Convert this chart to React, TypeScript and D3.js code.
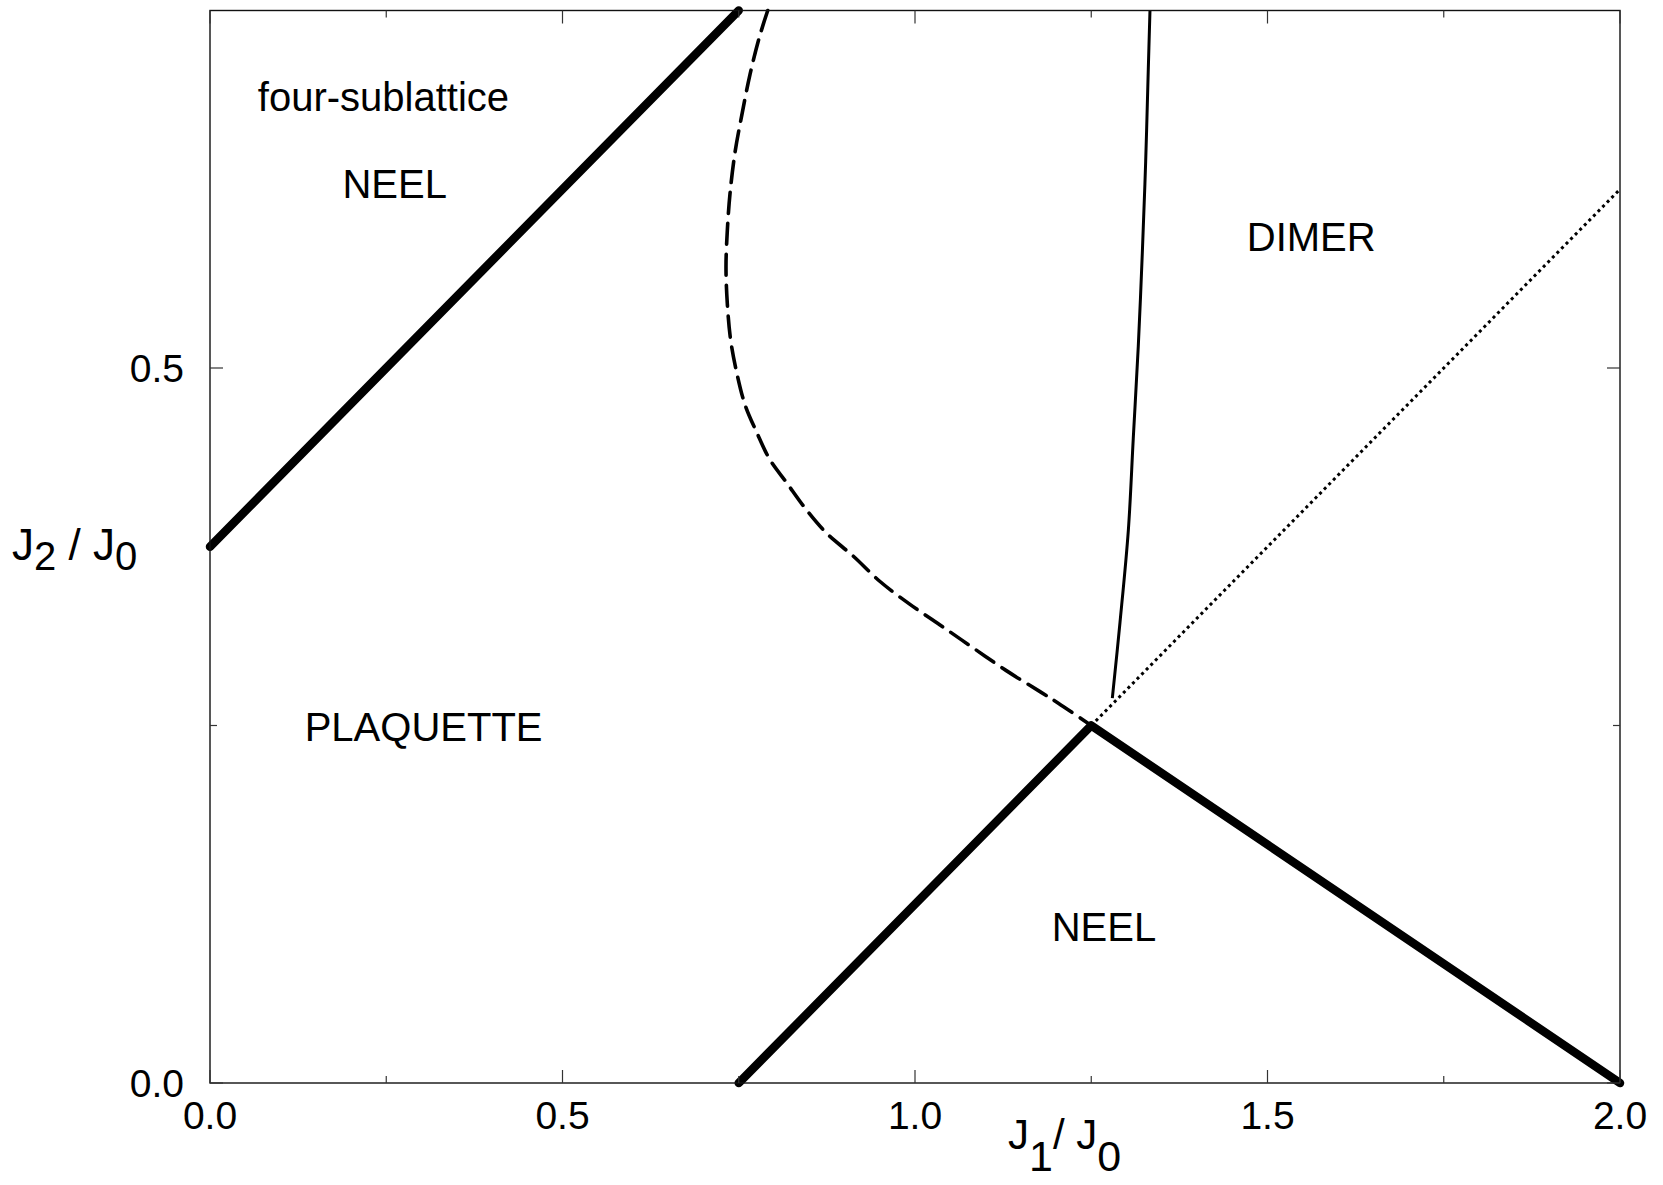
import React from 'react';
import {scaleLinear, line, curveCatmullRom, curveLinear} from 'd3';

// phase boundaries (J1/J0, J2/J0)
const upperNeelX = [0, 0.75];
const upperNeelY = [0.375, 0.75];

const lowerNeelX = [0.75, 1.25, 2.0];
const lowerNeelY = [0, 0.25, 0];

const dottedX = [1.25, 2.0];
const dottedY = [0.25, 0.625];

const dashedX = [0.7911, 0.7791, 0.766, 0.7542, 0.7447, 0.7376, 0.7338, 0.7319, 0.7338, 0.7386, 0.7471, 0.7589,
    0.7755, 0.7943, 0.818, 0.8464, 0.8747, 0.9125, 0.9504, 0.9929, 1.0355, 1.0827, 1.1301, 1.1773, 1.2033, 1.25];
const dashedY = [0.75, 0.7311, 0.7053, 0.6765, 0.6508, 0.6219, 0.5962, 0.5706, 0.5449, 0.5192, 0.4968, 0.4743,
    0.455, 0.4358, 0.4197, 0.4005, 0.3844, 0.3684, 0.3507, 0.3347, 0.3203, 0.3042, 0.2882, 0.2737, 0.2656, 0.25];

const thinX = [1.2799, 1.2908, 1.3026, 1.3096, 1.3167, 1.3224, 1.3272, 1.3309, 1.3333];
const thinY = [0.2691, 0.3222, 0.3865, 0.4508, 0.5151, 0.5801, 0.6445, 0.7088, 0.75];

const xMajor = [0, 0.5, 1.0, 1.5, 2.0];
const xMinor = [0.25, 0.75, 1.25, 1.75];
const yMajor = [0, 0.5];
const yMinor = [0.25];

const regionNames = ['four-sublattice', 'NEEL', 'DIMER', 'PLAQUETTE', 'NEEL'];
const regionX = [0.246, 0.262, 1.562, 0.303, 1.268];
const regionY = [0.68, 0.619, 0.582, 0.239, 0.099];

const spec = {
    width: 1663,
    height: 1185,
    margin: {left: 210, right: 43, top: 10.5, bottom: 102}
};

let zip = (xs: number[], ys: number[]) => xs.map((x, i) => [x, ys[i]] as [number, number]);

let App = () => {
    let w = spec.width - spec.margin.left - spec.margin.right;
    let h = spec.height - spec.margin.top - spec.margin.bottom;
    let x = scaleLinear().domain([0, 2]).range([0, w]);
    let y = scaleLinear().domain([0, 0.75]).range([h, 0]);
    let fmt = x.tickFormat(5, '.1f');

    let straight = line<[number, number]>().x(d => x(d[0])).y(d => y(d[1])).curve(curveLinear);
    let smooth = line<[number, number]>().x(d => x(d[0])).y(d => y(d[1])).curve(curveCatmullRom.alpha(0.5));

    let font = 'Liberation Sans, Arial, Helvetica, sans-serif';
    let tickLen = {major: 13, minor: 7};

    return (
        <svg width={spec.width} height={spec.height} style={{position: 'absolute', left: 0, top: 0, background: '#fff'}}
             fontFamily={font}>
            <g transform={`translate(${spec.margin.left},${spec.margin.top})`}>
                {/* lines */}
                <path d={straight(zip(upperNeelX, upperNeelY)) || ''} fill="none" stroke="#000" strokeWidth={8.5}
                      strokeLinecap="round" strokeLinejoin="round"/>
                <path d={straight(zip(lowerNeelX, lowerNeelY)) || ''} fill="none" stroke="#000" strokeWidth={8.5}
                      strokeLinecap="round" strokeLinejoin="round"/>
                <path d={straight(zip(dottedX, dottedY)) || ''} fill="none" stroke="#000" strokeWidth={3}
                      strokeDasharray="3,3.5"/>
                <path d={smooth(zip(dashedX, dashedY)) || ''} fill="none" stroke="#000" strokeWidth={3.6}
                      strokeDasharray="21,10" strokeLinecap="round"/>
                <path d={smooth(zip(thinX, thinY)) || ''} fill="none" stroke="#000" strokeWidth={3}/>

                {/* frame */}
                <rect x={0} y={0} width={w} height={h} fill="none" stroke="#111" strokeWidth={1.4}/>

                <g stroke="#333" strokeWidth={1.2}>
                    {xMajor.concat(xMinor).map((t, i) => {
                        let len = xMajor.includes(t) ? tickLen.major : tickLen.minor;
                        return <g key={'x' + i}>
                            <line x1={x(t)} x2={x(t)} y1={h} y2={h - len}/>
                            <line x1={x(t)} x2={x(t)} y1={0} y2={len}/>
                        </g>;
                    })}
                    {yMajor.concat(yMinor).map((t, i) => {
                        let len = yMajor.includes(t) ? tickLen.major : tickLen.minor;
                        return <g key={'y' + i}>
                            <line x1={0} x2={len} y1={y(t)} y2={y(t)}/>
                            <line x1={w} x2={w - len} y1={y(t)} y2={y(t)}/>
                        </g>;
                    })}
                </g>

                {/* tick labels */}
                {xMajor.map((t, i) => <text key={'xl' + i} x={x(t)} y={h + 46} fontSize={39} textAnchor="middle">{fmt(t)}</text>)}
                {yMajor.map((t, i) => <text key={'yl' + i} x={-26} y={y(t) + 14} fontSize={39} textAnchor="end">{fmt(t)}</text>)}

                {/* region names */}
                {regionNames.map((s, i) => <text key={'r' + i} x={x(regionX[i])} y={y(regionY[i])} fontSize={40}
                                                 textAnchor="middle">{s}</text>)}
            </g>

            {/* axis titles */}
            <text x={1008} y={1149} fontSize={42}>
                <tspan>J</tspan>
                <tspan dy={22} fontSize={43}>1</tspan>
                <tspan dy={-22}>/ J</tspan>
                <tspan dy={22} fontSize={43}>0</tspan>
            </text>
            <text x={12} y={560} fontSize={44}>
                <tspan>J</tspan>
                <tspan dy={10} fontSize={40}>2</tspan>
                <tspan dy={-10}> / J</tspan>
                <tspan dy={10} fontSize={40}>0</tspan>
            </text>
        </svg>
    );
};

export default App;
